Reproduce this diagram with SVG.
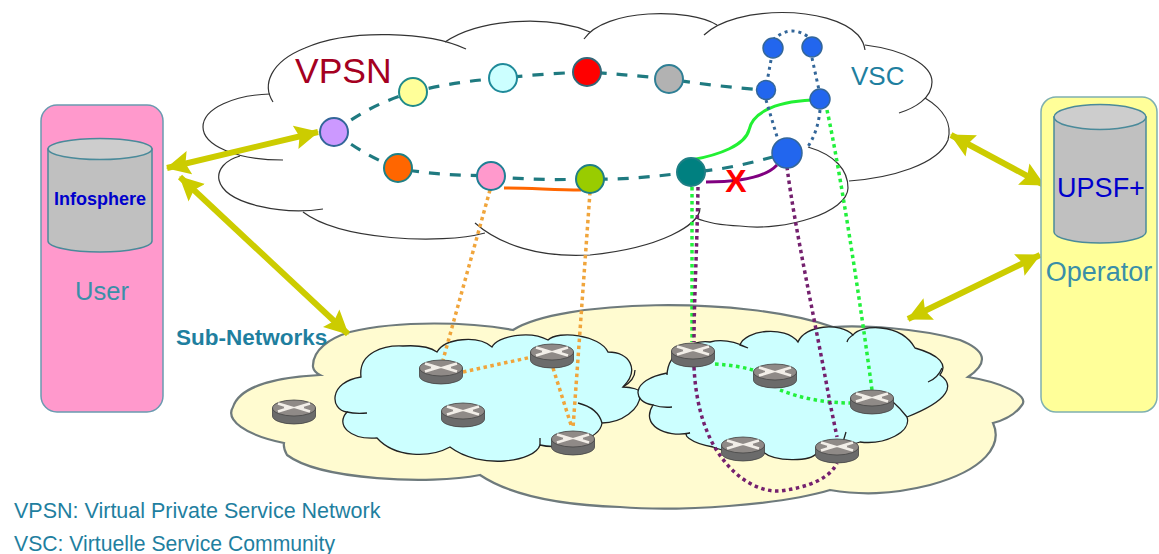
<svg xmlns="http://www.w3.org/2000/svg" width="1159" height="554" viewBox="0 0 1159 554">
<style>
text{font-family:"Liberation Sans",Arial,sans-serif}
.ol{fill:none;stroke:#333;stroke-width:1.2}
.blue{fill:#CCFFFF;stroke:#222;stroke-width:1.3}
.tick{fill:none;stroke:#222;stroke-width:1.3}
.ring{fill:none;stroke:#1F7A80;stroke-width:3.200;stroke-dasharray:11 10}
.dot{fill:none;stroke-width:3.500;stroke-dasharray:3.500 3.500}
.o{stroke:#F0A53C}.g{stroke:#22F03C}.p{stroke:#74206E}.b{stroke:#336699;stroke-width:3;stroke-dasharray:3 4}
.ar{fill:none;stroke:#CCCC00;stroke-width:6;marker-start:url(#h);marker-end:url(#h)}
.n{stroke-width:2}
.v{fill:#2266EE;stroke:#336699;stroke-width:1.5}
.cyl{fill:#C0C0C0;stroke:#4A8A9A;stroke-width:1.5}
.cyt{fill:#CDCDCD;stroke:#4A8A9A;stroke-width:1.5}
.teal{fill:#3A8FA8}
.leg{fill:#1F7FA0}
</style>
<defs>
<marker id="h" markerUnits="userSpaceOnUse" markerWidth="26" markerHeight="26" refX="23" refY="13" orient="auto-start-reverse"><path d="M0 1L24 13L0 25L4 13Z" fill="#CCCC00"/></marker>
<g id="router">
<path d="M-21.500 -4V4A21.500 8 0 0 0 21.500 4V-4Z" fill="#6B6B6B" stroke="#444" stroke-width=".8"/>
<ellipse cx="0" cy="-4" rx="21.500" ry="8" fill="#8F8A87" stroke="#444" stroke-width=".8"/>
<path d="M-16 -8.500L-3 -4.500L-16 -.5M16 -8.500L3 -4.500L16 -.5" fill="none" stroke="#F2EEE8" stroke-width="2.800"/>
<path d="M-10 -4.500H-3M10 -4.500H3" fill="none" stroke="#F2EEE8" stroke-width="2"/>
</g>
</defs>
<rect width="1159" height="554" fill="#fff"/>

<g id="vpsn-cloud">
<path class="ol" d="M273 102C262 85 270 62 305 48C350 28 430 32 466 49"/>
<path class="ol" d="M445 42C480 18 550 15 590 32"/>
<path class="ol" d="M584 39C605 8 690 8 717 25"/>
<path class="ol" d="M704 35C735 5 830 5 858 35Q864 42 865 50"/>
<path class="ol" d="M865 45C905 50 932 65 932 82C932 98 915 108 899 113"/>
<path class="ol" d="M925 98C945 110 952 125 948 140C938 165 890 178 849 181"/>
<path class="ol" d="M808 147C835 155 848 170 848 188C848 212 785 232 740 226C715 225 705 222 696 218"/>
<path class="ol" d="M700 208C700 225 660 248 590 255C540 258 500 245 475 223"/>
<path class="ol" d="M485 233C440 245 340 240 303 212"/>
<path class="ol" d="M323 209C285 215 225 205 219 180C217 170 225 160 240 156"/>
<path class="ol" d="M283 160C235 160 203 145 203 127C203 108 235 95 270 94"/>
</g>

<g id="subnet-cloud">
<path fill="#FFFBD0" stroke="#6E7A7C" stroke-width="2.200" d="M313 367C312 350 330 338 350 332C400 320 470 322 513 330C560 300 740 295 833 327C860 325 920 328 960 340C985 350 990 362 968 377C1000 382 1030 395 1022 405C1015 415 1005 420 993 423C1003 445 985 470 930 485C890 495 860 495 830 490C780 505 680 512 620 507C560 505 510 495 480 475C430 485 320 480 287 455Q283 448 284 443C245 435 225 420 233 407C240 385 280 377 320 375Q314 372 313 367Z"/>
</g>

<g id="left-network">
<path class="blue" d="M361 377C358 352 385 345 403 346C418 345 430 347 437 352C445 338 478 335 492 347C497 336 530 330 548 340C558 330 600 335 608 352C630 352 640 370 623 387C632 387 640 390 640 392C642 410 620 423 602 423C600 440 560 450 540 445C535 462 480 470 450 447C430 458 395 458 377 438C350 440 335 425 347 412C330 410 328 382 361 377Z"/>
<path class="tick" d="M347 412Q355 414 367 413M578 403Q598 408 602 423M540 438V445M635 370Q635 380 623 387"/>
</g>
<g id="right-network">
<path class="blue" d="M667 375C668 350 695 340 710 342C725 338 738 343 748 348L740 345C745 330 785 325 798 342C805 325 840 322 853 335C860 325 900 322 915 348C940 355 948 365 940 375C955 385 950 400 907 417C912 432 885 445 860 442C850 445 830 453 817 453C810 462 775 462 763 452C745 455 725 452 713 447C690 443 680 433 690 433C665 438 640 425 653 405C632 402 630 380 667 373Z"/>
<path class="tick" d="M653 405Q662 408 672 407M853 335Q848 338 847 342M928 382Q938 378 942 368M893 402Q900 408 907 417M843 442L846 432"/>
</g>

<g id="connectors">
<path class="ring" d="M334 132C360 112 385 100 413 92C445 84 475 80 503 78C530 75 560 73 587 72C615 74 640 76 669 79C700 84 735 88 766 90"/>
<path class="ring" d="M334 132C355 148 375 160 398 168C430 175 460 175 491 176C525 180 560 180 590 179C625 180 660 176 691 172C725 170 755 162 787 153"/>
<path d="M504 188C530 188 555 190 581 190" fill="none" stroke="#FF6600" stroke-width="3"/>
<path d="M691 160C720 155 745 145 749 130C752 115 770 102 812 100" fill="none" stroke="#22F033" stroke-width="3"/>
<path d="M706 182C735 182 765 178 777 165" fill="none" stroke="#800080" stroke-width="3"/>
<path class="dot b" d="M773 40Q792 22 812 40"/>
<path class="dot b" d="M771 60L767 82M812 58L819 90M766 100L778 140M820 110Q818 132 807 148"/>
<path class="dot o" d="M490 190L443 360M590 192L573 428M463 372L532 357M553 368L572 428"/>
<path class="dot g" d="M692 187V342M827 110C840 170 860 300 872 390M715 364C730 365 742 367 753 370M780 390C800 398 825 403 850 403"/>
<path class="dot p" d="M698 187C697 250 694 300 694 342M787 167C795 230 815 320 830 403L837 437M694 367C696 410 708 440 722 458C738 480 760 492 780 491C810 487 830 478 837 463"/>
<path class="ar" d="M167 168L318 132"/>
<path class="ar" d="M180 177L348 334"/>
<path class="ar" d="M951 135L1044 185"/>
<path class="ar" d="M908 319L1040 255"/>
</g>

<g id="vpsn-purple"><circle class="n" cx="334" cy="132" r="14" fill="#CC99FF" stroke="#336699"/></g>
<g id="vpsn-yellow"><circle class="n" cx="413" cy="92" r="14" fill="#FFFF99" stroke="#1F8A8A"/></g>
<g id="vpsn-cyan"><circle class="n" cx="503" cy="78" r="14" fill="#CCFFFF" stroke="#1F8A9A"/></g>
<g id="vpsn-red"><circle class="n" cx="587" cy="72" r="14" fill="#FF0000" stroke="#336677"/></g>
<g id="vpsn-gray"><circle class="n" cx="669" cy="79" r="14" fill="#B2B2B2" stroke="#2F7F95"/></g>
<g id="vpsn-orange"><circle class="n" cx="398" cy="168" r="14" fill="#FF6600" stroke="#1F7F85"/></g>
<g id="vpsn-pink"><circle class="n" cx="491" cy="176" r="14" fill="#FF99CC" stroke="#1F7F95"/></g>
<g id="vpsn-green"><circle class="n" cx="590" cy="179" r="14" fill="#99CC00" stroke="#1F7F85"/></g>
<g id="vpsn-teal"><circle class="n" cx="691" cy="172" r="14" fill="#008080" stroke="#1F7F85"/></g>
<g id="vsc-a"><circle class="v" cx="773" cy="48" r="10"/></g>
<g id="vsc-b"><circle class="v" cx="812" cy="47" r="10"/></g>
<g id="vsc-c"><circle class="v" cx="766" cy="90" r="9.500"/></g>
<g id="vsc-d"><circle class="v" cx="820" cy="99" r="10"/></g>
<g id="vsc-e"><circle class="v" cx="787" cy="153" r="15"/></g>

<g id="r1"><use href="#router" x="441" y="372"/></g>
<g id="r2"><use href="#router" x="552" y="356"/></g>
<g id="r3"><use href="#router" x="463" y="415"/></g>
<g id="r4"><use href="#router" x="573" y="443"/></g>
<g id="r5"><use href="#router" x="294" y="412"/></g>
<g id="r6"><use href="#router" x="693" y="355"/></g>
<g id="r7"><use href="#router" x="775" y="376"/></g>
<g id="r8"><use href="#router" x="872" y="402"/></g>
<g id="r9"><use href="#router" x="743" y="449"/></g>
<g id="r10"><use href="#router" x="837" y="451"/></g>

<g id="user">
<rect x="41" y="105" width="122" height="307" rx="16" fill="#FF99CC" stroke="#6A9AB0" stroke-width="1.500"/>
<path class="cyl" d="M48 149V241A52 11 0 0 0 152 241V149Z"/>
<ellipse class="cyt" cx="100" cy="149" rx="52" ry="10.500"/>
<text x="100" y="205" text-anchor="middle" font-weight="bold" font-size="18" fill="#0000CC">Infosphere</text>
<text x="102" y="300" text-anchor="middle" font-size="25.500" class="teal">User</text>
</g>
<g id="operator">
<rect x="1041" y="97" width="116" height="315" rx="15" fill="#FFFF99" stroke="#7FB0B0" stroke-width="1.500"/>
<path class="cyl" d="M1054 117V232A46 11 0 0 0 1146 232V117Z"/>
<ellipse class="cyt" cx="1100" cy="117" rx="46" ry="12.500"/>
<text x="1101" y="197" text-anchor="middle" font-size="27" fill="#0000CC">UPSF+</text>
<text x="1099" y="281" text-anchor="middle" font-size="27" class="teal">Operator</text>
</g>

<g id="labels">
<text x="295" y="83" font-size="35.500" fill="#A50021">VPSN</text>
<text x="851" y="85" font-size="26" fill="#1F7F9F">VSC</text>
<text x="736" y="192" text-anchor="middle" font-size="32" font-weight="bold" fill="#FF0000">X</text>
<text x="176" y="345" font-size="22.500" font-weight="bold" fill="#1F7F9F">Sub-Networks</text>
<text x="14" y="518" font-size="21.500" class="leg">VPSN: Virtual Private Service Network</text>
<text x="14" y="551" font-size="21.200" class="leg">VSC: Virtuelle Service Community</text>
</g>
</svg>
